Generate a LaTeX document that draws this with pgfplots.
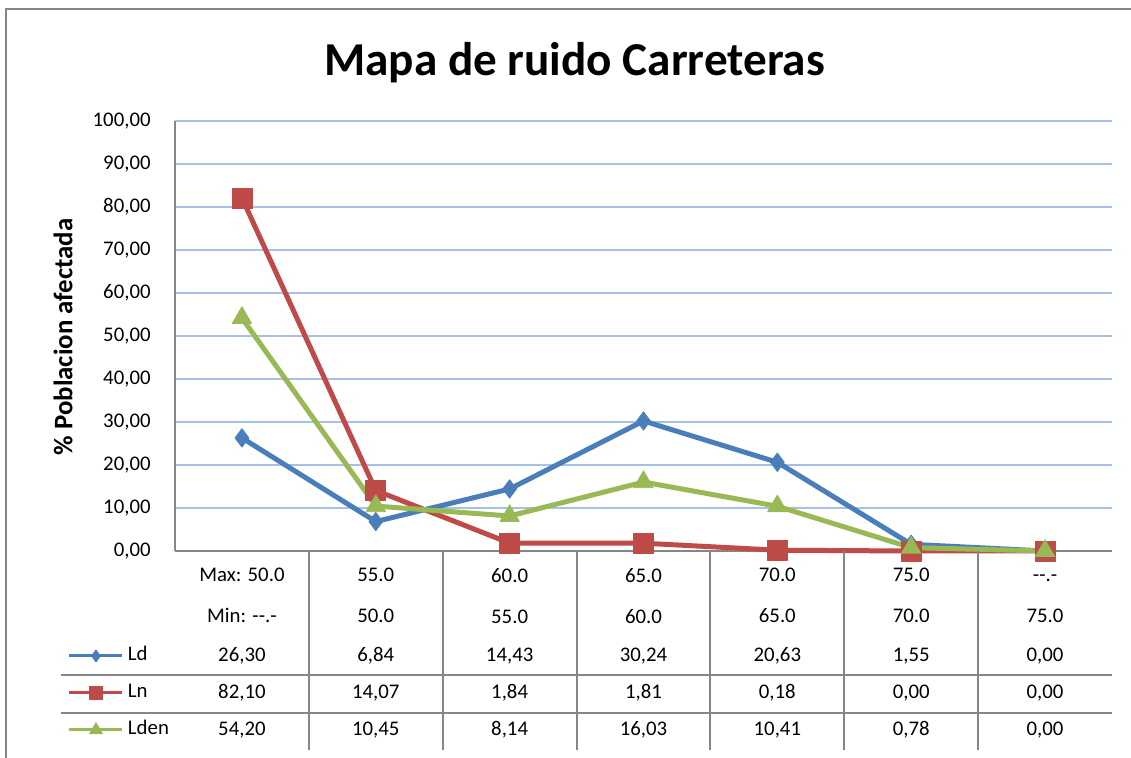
\documentclass[border=0pt]{standalone}
\usepackage{pgfplots}
\pgfplotsset{compat=1.18}
\usepackage{pgfplotstable}
\usepackage{fontspec}
\setmainfont{Carlito}
\definecolor{cLd}{HTML}{4A7EBB}
\definecolor{cLn}{HTML}{BE4B48}
\definecolor{cLden}{HTML}{98B954}
\definecolor{gridc}{HTML}{A7C1E6}
\definecolor{axc}{HTML}{868686}

\pgfplotstableread{
x Ld Ln Lden
0 26.30 82.10 54.20
1 6.84 14.07 10.45
2 14.43 1.84 8.14
3 30.24 1.81 16.03
4 20.63 0.18 10.41
5 1.55 0.00 0.78
6 0.00 0.00 0.00
}\data

\newcommand\dd{\hbox{-}\hbox{-}.\hbox{-}}

\begin{document}
\begin{tikzpicture}[font=\fontsize{10.4}{12.5}\selectfont]
\useasboundingbox (-87.5pt,-103.5pt) rectangle (478pt,275.5pt);
\draw[axc, line width=1.3pt] (-84.5pt,-110pt) -- (-84.5pt,271pt) -- (490pt,271pt);
\begin{axis}[
  at={(0pt,0pt)}, anchor=south west,
  scale only axis, width=468.5pt, height=215pt,
  xmin=-0.5, xmax=6.5, ymin=0, ymax=100,
  ytick={0,10,...,100},
  xtick={0,...,6},
  xticklabels={{Max: 50.0\\Min: \dd},{55.0\\50.0},{60.0\\55.0},{65.0\\60.0},{70.0\\65.0},{75.0\\70.0},{\vphantom{0}\dd\\75.0}},
  xticklabel style={align=center, inner sep=0pt, anchor=north, yshift=-8.5pt, font=\fontsize{10.4}{20.5}\selectfont},
  yticklabel={\pgfmathprintnumber[fixed,fixed zerofill,precision=2,use comma,assume math mode=true]{\tick}},
  yticklabel style={anchor=east, inner sep=0pt, xshift=-12pt, font=\fontsize{10.4}{12.5}\selectfont},
  major tick length=0pt,
  axis x line*=bottom, axis y line*=left,
  axis line style={draw=axc, line width=1pt, -},
  ymajorgrids, grid style={draw=gridc, line width=1pt},
  title={Mapa de ruido Carreteras},
  title style={font=\bfseries\fontsize{23.6}{28}\selectfont, at={(axis description cs:0.4264,1.107)}, anchor=base, yshift=-6.5pt},
  ylabel={\% Poblacion afectada},
  every axis y label/.style={at={(axis description cs:-0.1195,0.4977)}, rotate=90, anchor=center, font=\bfseries\fontsize{13.4}{16}\selectfont},
  legend entries={Ld,Ln,Lden},
  legend cell align=left,
  legend style={at={(-0.1142,-0.3302)}, anchor=west, draw=none, fill=none, inner sep=0pt, outer sep=0pt, row sep=9.5pt, column sep=2pt, nodes={inner sep=0pt, text height=7pt, text depth=2pt}, font=\fontsize{10.4}{12.5}\selectfont},
  legend image code/.code={\draw[mark repeat=2,mark phase=2,#1,line width=1.5pt, every mark/.append style={scale=0.65}] plot coordinates {(0pt,0pt) (13.25pt,0pt) (26.5pt,0pt)};},
  clip=false,
]
\addplot[cLd, line width=2.5pt, line join=round, mark=diamond*, mark size=4.6pt, mark options={fill=cLd, draw=cLd, line width=0.4pt}] table[x=x,y=Ld]{\data};
\addplot[cLn, line width=2.5pt, line join=round, mark=square*, mark size=5pt, mark options={fill=cLn, draw=cLn, line width=0.4pt}] table[x=x,y=Ln]{\data};
\addplot[cLden, line width=2.5pt, line join=round, mark=triangle*, mark size=5.6pt, mark options={fill=cLden, draw=cLden, line width=0.4pt}] table[x=x,y=Lden]{\data};
\end{axis}
\foreach \k in {1,...,6} \draw[axc, line width=1pt] ({\k*66.9286pt},0pt) -- ({\k*66.9286pt},-99.5pt);
\draw[axc, line width=1pt] (-57pt,-62pt) -- (468.5pt,-62pt);
\draw[axc, line width=1pt] (-57pt,-81pt) -- (468.5pt,-81pt);
\foreach \k in {0,...,6} {
  \pgfplotstablegetelem{\k}{Ld}\of\data
  \node at ({(\k+0.5)*66.9286pt},-52.5pt) {\pgfmathprintnumber[fixed,fixed zerofill,precision=2,use comma,assume math mode=true]{\pgfplotsretval}};
  \pgfplotstablegetelem{\k}{Ln}\of\data
  \node at ({(\k+0.5)*66.9286pt},-71pt) {\pgfmathprintnumber[fixed,fixed zerofill,precision=2,use comma,assume math mode=true]{\pgfplotsretval}};
  \pgfplotstablegetelem{\k}{Lden}\of\data
  \node at ({(\k+0.5)*66.9286pt},-89.5pt) {\pgfmathprintnumber[fixed,fixed zerofill,precision=2,use comma,assume math mode=true]{\pgfplotsretval}};
}
\end{tikzpicture}
\end{document}
